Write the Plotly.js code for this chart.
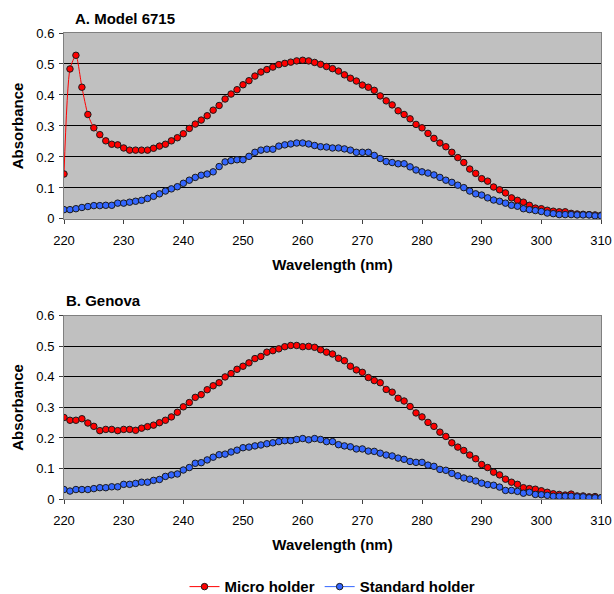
<!DOCTYPE html>
<html><head><meta charset="utf-8">
<script src="https://cdn.plot.ly/plotly-3.0.1.min.js"></script>
<style>html,body{margin:0;padding:0;background:#fff}#c{width:614px;height:594px}</style>
</head><body><div id="c"></div>
<script>
const wavelength = [];
for (let w = 220; w <= 310; w++) wavelength.push(w);

const panelTitles = ["A. Model 6715", "B. Genova"];
const seriesNames = ["Micro holder", "Standard holder"];
const xTicks = [220,230,240,250,260,270,280,290,300,310];
const yTicks = [0,0.1,0.2,0.3,0.4,0.5,0.6];
const yTickText = ["0","0.1","0.2","0.3","0.4","0.5","0.6"];

const modelMicro = [0.145,0.484,0.528,0.425,0.337,0.294,0.272,0.252,0.241,0.239,
0.229,0.222,0.222,0.222,0.222,0.228,0.235,0.241,0.252,0.262,
0.275,0.292,0.306,0.319,0.333,0.351,0.366,0.387,0.403,0.417,
0.433,0.446,0.461,0.474,0.482,0.490,0.498,0.502,0.506,0.510,
0.512,0.510,0.505,0.499,0.492,0.485,0.477,0.465,0.454,0.445,
0.432,0.425,0.415,0.397,0.381,0.368,0.349,0.337,0.323,0.305,
0.294,0.276,0.260,0.245,0.233,0.215,0.198,0.182,0.161,0.147,
0.130,0.122,0.103,0.094,0.084,0.068,0.060,0.054,0.044,0.035,
0.033,0.028,0.025,0.023,0.023,0.018,0.016,0.015,0.014,0.013,0.012];

const modelStandard = [0.030,0.030,0.033,0.037,0.040,0.043,0.043,0.044,0.044,0.051,
0.051,0.054,0.057,0.060,0.066,0.073,0.081,0.090,0.097,0.104,
0.115,0.125,0.134,0.141,0.145,0.152,0.169,0.184,0.188,0.191,
0.191,0.202,0.215,0.222,0.225,0.225,0.235,0.239,0.242,0.245,
0.245,0.242,0.237,0.233,0.232,0.229,0.229,0.226,0.222,0.215,
0.215,0.215,0.205,0.195,0.185,0.182,0.178,0.178,0.168,0.158,
0.152,0.148,0.142,0.134,0.125,0.118,0.109,0.101,0.090,0.081,
0.077,0.068,0.061,0.057,0.051,0.044,0.041,0.033,0.030,0.027,
0.024,0.019,0.017,0.014,0.014,0.014,0.013,0.013,0.013,0.010,0.010];

const genovaMicro = [0.267,0.258,0.258,0.263,0.249,0.238,0.224,0.228,0.228,0.224,
0.228,0.228,0.225,0.232,0.237,0.242,0.250,0.258,0.269,0.284,
0.302,0.316,0.333,0.342,0.358,0.371,0.381,0.400,0.411,0.425,
0.435,0.446,0.460,0.467,0.481,0.486,0.492,0.499,0.503,0.503,
0.499,0.500,0.497,0.489,0.481,0.475,0.461,0.453,0.435,0.423,
0.415,0.398,0.388,0.381,0.359,0.350,0.330,0.321,0.303,0.282,
0.269,0.251,0.238,0.219,0.205,0.184,0.170,0.159,0.144,0.132,
0.113,0.103,0.088,0.079,0.065,0.055,0.048,0.037,0.034,0.032,
0.027,0.022,0.017,0.015,0.013,0.016,0.010,0.010,0.007,0.008,0.004];

const genovaStandard = [0.031,0.026,0.031,0.031,0.031,0.034,0.037,0.037,0.040,0.040,
0.048,0.048,0.051,0.055,0.055,0.061,0.064,0.074,0.079,0.082,
0.095,0.103,0.117,0.119,0.128,0.137,0.145,0.147,0.154,0.160,
0.168,0.170,0.174,0.177,0.181,0.184,0.188,0.191,0.191,0.195,
0.198,0.194,0.198,0.195,0.188,0.188,0.178,0.174,0.171,0.164,
0.164,0.157,0.156,0.150,0.144,0.141,0.134,0.130,0.123,0.120,
0.120,0.111,0.107,0.097,0.094,0.084,0.076,0.069,0.065,0.059,
0.052,0.047,0.045,0.039,0.028,0.028,0.025,0.019,0.022,0.015,
0.014,0.012,0.009,0.009,0.009,0.009,0.007,0.007,0.004,0.004,0.004];

const RED = '#FF0000', BLUE = '#3366FF';
function tr(y, name, color, xa, ya, show) {
  return {x: wavelength, y: y, name: name, type: 'scatter', mode: 'lines+markers',
    xaxis: xa, yaxis: ya, showlegend: show,
    line: {color: color, width: 1, shape: 'spline', smoothing: 0.6},
    marker: {color: color, size: 6.5, line: {color: '#1a1a1a', width: 1}}};
}
const data = [
  tr(modelMicro, seriesNames[0], RED, 'x', 'y', true),
  tr(modelStandard, seriesNames[1], BLUE, 'x', 'y', true),
  tr(genovaMicro, seriesNames[0], RED, 'x2', 'y2', false),
  tr(genovaStandard, seriesNames[1], BLUE, 'x2', 'y2', false)
];
const FONT = 'Liberation Sans, Arial, sans-serif';
function xa(anchor) {
  return {anchor: anchor, range: [220, 310], tickvals: xTicks, ticktext: xTicks.map(String),
    automargin: false,
    showgrid: false, zeroline: false, showline: true, mirror: true, linecolor: '#808080', linewidth: 1,
    ticks: 'outside', ticklen: 4, tickcolor: '#404040', ticklabelstandoff: 5,
    tickfont: {family: FONT, size: 13, color: '#000'},
    title: {text: 'Wavelength (nm)', font: {family: FONT, size: 15, color: '#000', weight: 'bold'}, standoff: 12}};
}
function ya(anchor, dom) {
  return {anchor: anchor, domain: dom, range: [0, 0.6], tickvals: yTicks, ticktext: yTickText,
    automargin: false,
    showgrid: true, gridcolor: '#000', gridwidth: 1, zeroline: false,
    showline: true, mirror: true, linecolor: '#808080', linewidth: 1,
    ticks: 'outside', ticklen: 4, tickcolor: '#404040', ticklabelstandoff: 2,
    tickfont: {family: FONT, size: 13, color: '#000'},
    title: {text: 'Absorbance', font: {family: FONT, size: 15, color: '#000', weight: 'bold'}, standoff: 9}};
}
const layout = {
  width: 614, height: 594,
  margin: {l: 64, r: 13, t: 33, b: 95},
  paper_bgcolor: '#fff', plot_bgcolor: '#C0C0C0',
  font: {family: FONT, color: '#000'},
  xaxis: xa('y'), yaxis: ya('x', [0.601, 1]),
  xaxis2: xa('y2'), yaxis2: ya('x2', [0, 0.393]),
  showlegend: true,
  legend: {orientation: 'h', x: 0.5, xanchor: 'center', xref: 'paper', yref: 'container',
    y: 0.012, yanchor: 'middle',
    font: {family: FONT, size: 15, color: '#000', weight: 'bold'}, bgcolor: 'rgba(0,0,0,0)', itemwidth: 30},
  annotations: [
    {text: panelTitles[0], xref: 'paper', yref: 'paper', x: 0.017, y: 1.0, yshift: 15,
     xanchor: 'left', yanchor: 'middle', showarrow: false, font: {family: FONT, size: 15, color: '#000', weight: 'bold'}},
    {text: panelTitles[1], xref: 'paper', yref: 'paper', x: 0.0, y: 0.393, yshift: 15,
     xanchor: 'left', yanchor: 'middle', showarrow: false, font: {family: FONT, size: 15, color: '#000', weight: 'bold'}}
  ]
};
Plotly.newPlot('c', data, layout, {displayModeBar: false, staticPlot: true});
</script></body></html>
